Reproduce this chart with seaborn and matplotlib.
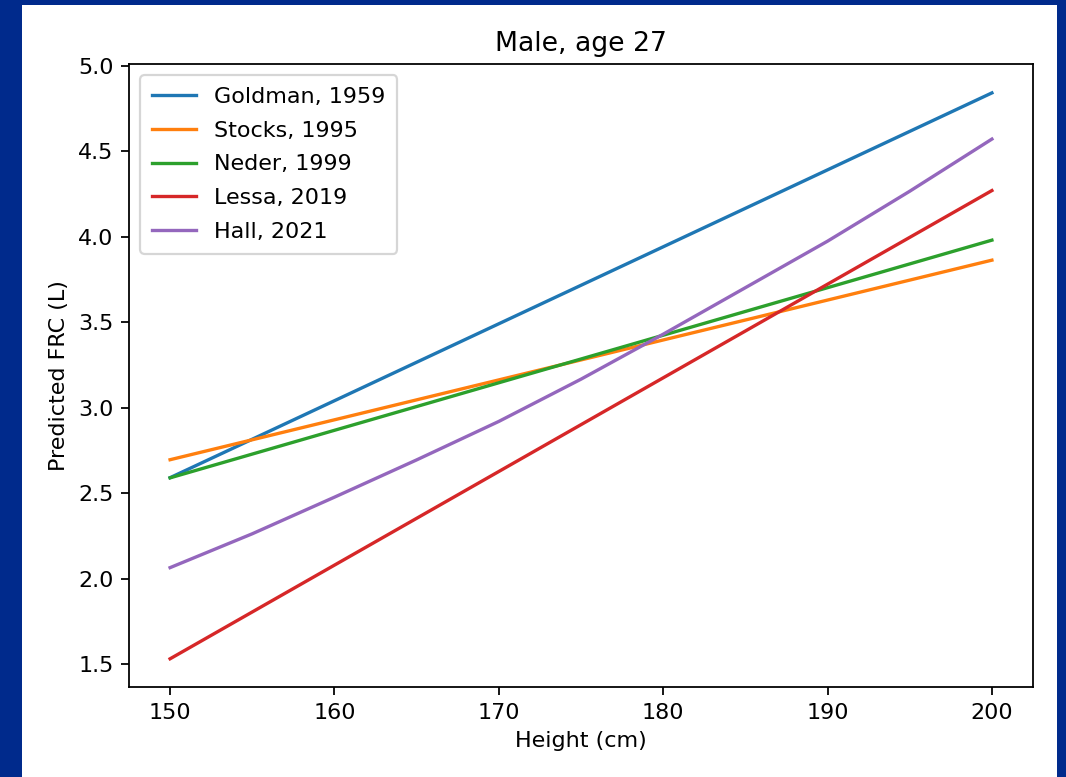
import matplotlib
matplotlib.use("Agg")
import matplotlib.pyplot as plt
from matplotlib.patches import Rectangle
import seaborn as sns
import pandas as pd

# Data
heights_lin = [150, 200]
goldman = [2.59, 4.84]
stocks = [2.695, 3.862]
neder = [2.589, 3.979]
lessa = [1.531, 4.269]

heights_hall = [150, 155, 160, 165, 170, 175, 180, 185, 190, 195, 200]
hall = [2.064, 2.262, 2.476, 2.694, 2.919, 3.166, 3.429, 3.701, 3.973, 4.265, 4.570]

labels = ["Goldman, 1959", "Stocks, 1995", "Neder, 1999", "Lessa, 2019", "Hall, 2021"]
colors = ["#1f77b4", "#ff7f0e", "#2ca02c", "#d62728", "#9467bd"]

series = [
    (heights_lin, goldman),
    (heights_lin, stocks),
    (heights_lin, neder),
    (heights_lin, lessa),
    (heights_hall, hall),
]

dpi = 160
fig = plt.figure(figsize=(1066 / dpi, 777 / dpi), dpi=dpi)
fig.patch.set_facecolor("#002a8c")
bg = Rectangle((22 / 1066, 0), (1057 - 22) / 1066, 772 / 777,
               transform=fig.transFigure, facecolor="white",
               edgecolor="none", zorder=-10)
fig.add_artist(bg)

ax = fig.add_axes([129 / 1066, 1 - 687 / 777, (1033 - 129) / 1066, (687 - 64) / 777])
ax.set_zorder(5)

for (xs, ys), lab, c in zip(series, labels, colors):
    df = pd.DataFrame({"Height": xs, "FRC": ys})
    sns.lineplot(data=df, x="Height", y="FRC", color=c, label=lab, ax=ax, linewidth=1.5)

ax.set_xlim(147.5, 202.5)
ax.set_ylim(1.366, 5.009)
ax.set_xticks([150, 160, 170, 180, 190, 200])
ax.set_yticks([1.5, 2.0, 2.5, 3.0, 3.5, 4.0, 4.5, 5.0])
ax.set_yticklabels(["1.5", "2.0", "2.5", "3.0", "3.5", "4.0", "4.5", "5.0"])
ax.set_xlabel("Height (cm)")
ax.set_ylabel("Predicted FRC (L)")
ax.set_title("Male, age 27", fontsize=12)
ax.legend(loc="upper left", labelspacing=0.62, borderpad=0.53)

fig.savefig("out.png", dpi=dpi, facecolor=fig.get_facecolor())
